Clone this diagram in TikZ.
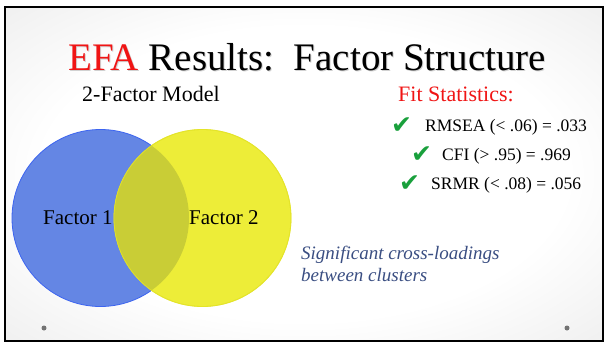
\documentclass[tikz,border=0pt]{standalone}
\usepackage{fontspec}
\setmainfont{Liberation Serif}
\newfontfamily\symfont{DejaVu Sans}
\definecolor{bluefill}{RGB}{100,134,228}
\definecolor{blueedge}{RGB}{60,100,240}
\definecolor{yellowfill}{RGB}{237,237,56}
\definecolor{yellowedge}{RGB}{228,228,40}
\definecolor{overlapfill}{RGB}{201,205,54}
\definecolor{checkgreen}{RGB}{25,160,60}
\definecolor{notecolor}{RGB}{58,78,130}
\definecolor{titlered}{RGB}{240,20,20}
\pgfdeclareradialshading{slidebg}{\pgfpoint{0bp}{0bp}}{color(0bp)=(white); color(22bp)=(white); color(38bp)=(black!7); color(50bp)=(black!17); color(70bp)=(black!20)}
\begin{document}
\begin{tikzpicture}[x=1pt,y=-1pt,
  venn/.style={circle, minimum size=177pt, inner sep=0pt, line width=0.8pt},
  lbl/.style={anchor=base west, inner sep=0pt, font=\fontsize{22}{26}\selectfont},
  stat/.style={anchor=base west, inner sep=0pt, font=\fontsize{17.5}{20}\selectfont},
  tick/.style={anchor=base west, inner sep=0pt, text=checkgreen, font=\symfont\fontsize{25}{27}\selectfont},
  dotmark/.style={circle, fill=black!55, minimum size=5pt, inner sep=0pt}
]
\useasboundingbox (0,0) rectangle (605,343);
\fill[white] (0,0) rectangle (605,343);
\shade[shading=slidebg] (5,7) rectangle (603,341);
\draw[line width=2.5pt] (5,7) rectangle (603,341);

% title
\node[anchor=base west, inner sep=0pt, text=black!18, font=\fontsize{39}{42}\selectfont] at (69,71) {\textcolor{black!18}{EFA} Results:\ \ Factor Structure};
\node[anchor=base west, inner sep=0pt, font=\fontsize{39}{42}\selectfont] (title) at (68,70) {\textcolor{titlered}{EFA} Results:\ \ Factor Structure};

\node[lbl] (model) at (82,101) {2-Factor Model};
\node[lbl, text=titlered] (fit) at (398,101) {Fit Statistics:};

% checks and stats
\node[tick] (c1) at (391,133) {✔};
\node[stat] (s1) at (425,131) {RMSEA (< .06) = .033};
\node[tick] (c2) at (411,162) {✔};
\node[stat] (s2) at (442,160) {CFI (> .95) = .969};
\node[tick] (c3) at (399,191) {✔};
\node[stat] (s3) at (431,189) {SRMR (< .08) = .056};

% venn
\node[venn, fill=bluefill, draw=blueedge] (f1) at (100.5,218) {};
\node[venn, fill=yellowfill, draw=yellowedge] (f2) at (202.5,218) {};
\begin{scope}
  \clip (100.5,218) circle (88.5);
  \fill[overlapfill] (202.5,218) circle (88.5);
\end{scope}
\draw[yellowedge, line width=0.8pt, opacity=0.7] (202.5,218) circle (88.5);

\node[lbl, font=\fontsize{21}{24}\selectfont] (l1) at (43,224) {Factor 1};
\node[lbl, font=\fontsize{21}{24}\selectfont] (l2) at (189,224) {Factor 2};

\node[lbl, text=notecolor, font=\fontsize{19}{22}\selectfont\itshape] (n1) at (301,259) {Significant cross-loadings};
\node[lbl, text=notecolor, font=\fontsize{19}{22}\selectfont\itshape] (n2) at (301,281) {between clusters};

\node[dotmark] (d1) at (44,328) {};
\node[dotmark] (d2) at (567,328) {};
\end{tikzpicture}
\end{document}
